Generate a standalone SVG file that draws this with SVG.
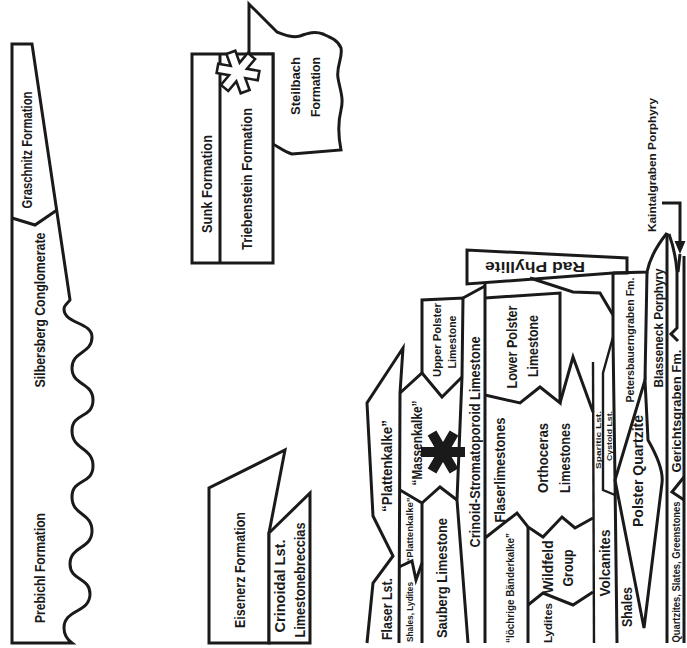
<svg xmlns="http://www.w3.org/2000/svg" xmlns:xlink="http://www.w3.org/1999/xlink" width="687" height="648" viewBox="0 0 687 648">
<style>
.ln{fill:none;stroke:#1a1a1a;stroke-width:3;stroke-linejoin:miter;stroke-miterlimit:6}
.th{stroke-width:2.4}
.bx{fill:#fff;stroke:#1a1a1a;stroke-width:3;stroke-linejoin:miter}
text{font-family:"Liberation Sans Narrow","Liberation Sans",Arial,sans-serif;font-weight:bold;fill:#1a1a1a;text-anchor:middle}
.f14{font-size:14px}.f13{font-size:13px}.f12{font-size:12.5px}.f11{font-size:11.5px}.f10{font-size:10px}.f9{font-size:9px}.f8{font-size:8px}
</style>
<defs>
<polygon id="ast" points="22,-5 22,5 8.66,5 15.33,16.55 6.67,21.55 0,10 -6.67,21.55 -15.33,16.55 -8.66,5 -22,5 -22,-5 -8.66,-5 -15.33,-16.55 -6.67,-21.55 0,-10 6.67,-21.55 15.33,-16.55 8.66,-5"/>
</defs>
<rect width="687" height="648" fill="#fff"/>

<g id="left-column">
<path class="bx" d="M12,643 L12,44 L32,44 L70,300 C68,303 64,305 64,309 C64,324 92,322 92,337 C92,354 72,351 72,368 C72,386 93,382 93,400 C93,419 72,412 72,431 C72,450 93,447 93,466 C93,485 72,478 72,497 C72,516 92,512 92,531 C92,549 70,546 70,564 C70,581 90,577 90,594 C90,613 64,609 64,628 C64,636 68,640 72,643 Z"/>
<path class="ln" d="M12,218 L35,225 L57,210"/>
<text class="f14" transform="translate(27,150) rotate(-90)" y="5" textLength="117" lengthAdjust="spacingAndGlyphs">Graschnitz Formation</text>
<text class="f14" transform="translate(40,310) rotate(-90)" y="5" textLength="155" lengthAdjust="spacingAndGlyphs">Silbersberg Conglomerate</text>
<text class="f14" transform="translate(40,568) rotate(-90)" y="5" textLength="110" lengthAdjust="spacingAndGlyphs">Prebichl Formation</text>
</g>

<g id="sunk-triebenstein">
<path class="bx" d="M249,54 L249,4 L277,32 C285,35 292,38 300,36 C308,33 315,31 323,34 C330,37 338,40 341,48 C343,58 336,66 338,78 C340,90 344,98 341,110 C338,122 338,135 341,150 L292,154 C285,152 280,148 273,144 L273,54 Z"/>
<rect class="bx" x="192" y="54" width="81" height="209"/>
<path class="ln" d="M220,54 L220,263"/>
<use xlink:href="#ast" transform="translate(238,72) rotate(10) scale(0.95)" fill="#fff" stroke="#1a1a1a" stroke-width="2.7"/>
<text class="f14" transform="translate(207,184) rotate(-90)" y="5" textLength="98" lengthAdjust="spacingAndGlyphs">Sunk Formation</text>
<text class="f14" transform="translate(247,179) rotate(-90)" y="5" textLength="142" lengthAdjust="spacingAndGlyphs">Triebenstein Formation</text>
<text class="f13" transform="translate(295,86) rotate(-90)" y="4.6" textLength="58" lengthAdjust="spacingAndGlyphs">Steilbach</text>
<text class="f13" transform="translate(315,87) rotate(-90)" y="4.6" textLength="60" lengthAdjust="spacingAndGlyphs">Formation</text>
</g>

<g id="eisenerz">
<path class="bx" d="M209,643 L209,488 L285,450 L269,533 L269,643 Z"/>
<path class="bx" d="M269,533 L310,493 L310,643 L269,643 Z"/>
<text class="f14" transform="translate(240,570) rotate(-90)" y="5" textLength="116" lengthAdjust="spacingAndGlyphs">Eisenerz Formation</text>
<text class="f14" transform="translate(280,586) rotate(-90)" y="5" textLength="93" lengthAdjust="spacingAndGlyphs">Crinoidal Lst.</text>
<text class="f14" transform="translate(300,580) rotate(-90)" y="5" textLength="115" lengthAdjust="spacingAndGlyphs">Limestonebreccias</text>
</g>

<g id="main-section">
<path class="ln" d="M367,643 L373,583 L393,556 L373,516 L367,403 L403,348 L400,393 L399,643"/>
<path class="ln" d="M400,393 L422,373 L442,397 L462,377"/>
<path class="ln" d="M422,373 L422,300 L463,298 L462,377"/>
<path class="ln" d="M463,298 L485,286"/>
<path class="ln" d="M462,377 L457,500 L468,643"/>
<path class="ln" d="M422,503 L440,487 L457,500"/>
<path class="ln" d="M400,490 L422,503 L422,643"/>
<path class="ln" d="M399,567 L412,561 L416,580 L422,563"/>
<path class="ln" d="M485,283 L485,643"/>
<path class="bx" d="M467,284 L467,250 L627,258 L627,273 L613,273 Z"/>
<path class="ln" d="M485,298 L560,293 L560,403 L540,387 L520,403 L485,395"/>
<path class="ln" d="M530,278 L573,292 L600,293 L613,315"/>
<path class="ln" d="M613,273 L613,337 L615,480 L617,643"/>
<path class="ln th" d="M613,337 L603,373 L603,490 L615,495"/>
<path class="ln th" d="M593,362 L594,643"/>
<path class="ln" d="M560,403 L573,357 L593,412"/>
<path class="ln" d="M485,538 L517,513 L528,527 L543,537 L562,517 L575,528 L593,518"/>
<path class="ln" d="M528,527 L528,643"/>
<path class="ln" d="M528,605 L543,593 L573,605 L593,592"/>
<path class="ln" d="M613,273 L647,272 C649,262 655,248 667,233"/>
<path class="ln" d="M647,272 L645,380"/>
<path class="ln" d="M645,380 L648,440 Q664,468 662,483 L644,628 L615,480 Z"/>
<path class="ln" d="M667,233 L667,643"/>
<path class="ln" d="M669,234 C673,245 676,258 677,272 L677,328 L671,334 L678,341"/>
<path class="ln" d="M680,254 L678,272"/>
<path class="ln" d="M684,256 L684,643"/>
<path class="ln" d="M684,477 L672,492 L684,500"/>
<use xlink:href="#ast" transform="translate(443,452)" fill="#1a1a1a"/>

<text class="f14" transform="translate(387,466) rotate(-90)" y="5" textLength="92" lengthAdjust="spacingAndGlyphs">“Plattenkalke”</text>
<text class="f14" transform="translate(387,609) rotate(-90)" y="5" textLength="62" lengthAdjust="spacingAndGlyphs">Flaser Lst.</text>
<text class="f9" transform="translate(410,530) rotate(-90)" y="3.2" textLength="65" lengthAdjust="spacingAndGlyphs">“Plattenkalke”</text>
<text class="f9" transform="translate(410,612) rotate(-90)" y="3.2" textLength="60" lengthAdjust="spacingAndGlyphs">Shales, Lydites</text>
<text class="f14" transform="translate(417,443) rotate(-90)" y="5" textLength="85" lengthAdjust="spacingAndGlyphs">“Massenkalke”</text>
<text class="f14" transform="translate(442,578) rotate(-90)" y="5" textLength="120" lengthAdjust="spacingAndGlyphs">Sauberg Limestone</text>
<text class="f11" transform="translate(437,340) rotate(-90)" y="4.1" textLength="74" lengthAdjust="spacingAndGlyphs">Upper Polster</text>
<text class="f11" transform="translate(452,342) rotate(-90)" y="4.1" textLength="53" lengthAdjust="spacingAndGlyphs">Limestone</text>
<text class="f14" transform="translate(475,442) rotate(-90)" y="5" textLength="211" lengthAdjust="spacingAndGlyphs">Crinoid-Stromatoporoid Limestone</text>
<text class="f14" transform="translate(512,347) rotate(-90)" y="5" textLength="83" lengthAdjust="spacingAndGlyphs">Lower Polster</text>
<text class="f14" transform="translate(533,346) rotate(-90)" y="5" textLength="62" lengthAdjust="spacingAndGlyphs">Limestone</text>
<text class="f14" transform="translate(535,267) rotate(180)" y="5" textLength="100" lengthAdjust="spacingAndGlyphs">Rad Phyllite</text>
<text class="f14" transform="translate(500,470) rotate(-90)" y="5" textLength="105" lengthAdjust="spacingAndGlyphs">Flaserlimestones</text>
<text class="f10" transform="translate(510,588) rotate(-90)" y="3.6" textLength="110" lengthAdjust="spacingAndGlyphs">“löchrige Bänderkalke”</text>
<text class="f14" transform="translate(543,458) rotate(-90)" y="5" textLength="70" lengthAdjust="spacingAndGlyphs">Orthoceras</text>
<text class="f14" transform="translate(565,458) rotate(-90)" y="5" textLength="70" lengthAdjust="spacingAndGlyphs">Limestones</text>
<text class="f14" transform="translate(548,567) rotate(-90)" y="5" textLength="53" lengthAdjust="spacingAndGlyphs">Wildfeld</text>
<text class="f14" transform="translate(568,568) rotate(-90)" y="5" textLength="37" lengthAdjust="spacingAndGlyphs">Group</text>
<text class="f11" transform="translate(548,623) rotate(-90)" y="4.1" textLength="40" lengthAdjust="spacingAndGlyphs">Lydites</text>
<text class="f8" transform="translate(598.3,440) rotate(-90)" y="2.9" textLength="58" lengthAdjust="spacingAndGlyphs">Sparitic Lst.</text>
<text class="f8" transform="translate(609,436) rotate(-90)" y="2.9" textLength="50" lengthAdjust="spacingAndGlyphs">Cystoid Lst.</text>
<text class="f14" transform="translate(605,563) rotate(-90)" y="5" textLength="67" lengthAdjust="spacingAndGlyphs">Volcanites</text>
<text class="f14" transform="translate(627,607) rotate(-90)" y="5" textLength="40" lengthAdjust="spacingAndGlyphs">Shales</text>
<text class="f14" transform="translate(638,471) rotate(-90)" y="5" textLength="112" lengthAdjust="spacingAndGlyphs">Polster Quartzite</text>
<text class="f11" transform="translate(630,340) rotate(-90)" y="4.1" textLength="125" lengthAdjust="spacingAndGlyphs">Petersbauerngraben Fm.</text>
<text class="f12" transform="translate(658,328) rotate(-90)" y="4.5" textLength="119" lengthAdjust="spacingAndGlyphs">Blasseneck Porphyry</text>
<text class="f12" transform="translate(676,411) rotate(-90)" y="4.5" textLength="123" lengthAdjust="spacingAndGlyphs">Gerichtsgraben Fm.</text>
<text class="f10" transform="translate(676,572) rotate(-90)" y="3.6" textLength="141" lengthAdjust="spacingAndGlyphs">Quartzites, Slates, Greenstones</text>
<text class="f11" transform="translate(652,165) rotate(-90)" y="4.1" textLength="134" lengthAdjust="spacingAndGlyphs">Kaintalgraben Porphyry</text>
</g>

<g id="connectors">
<path class="ln" d="M662,203 L680,203 L680,243"/>
<polygon points="674.5,241 685.5,241 680,254" fill="#1a1a1a"/>
</g>
</svg>
